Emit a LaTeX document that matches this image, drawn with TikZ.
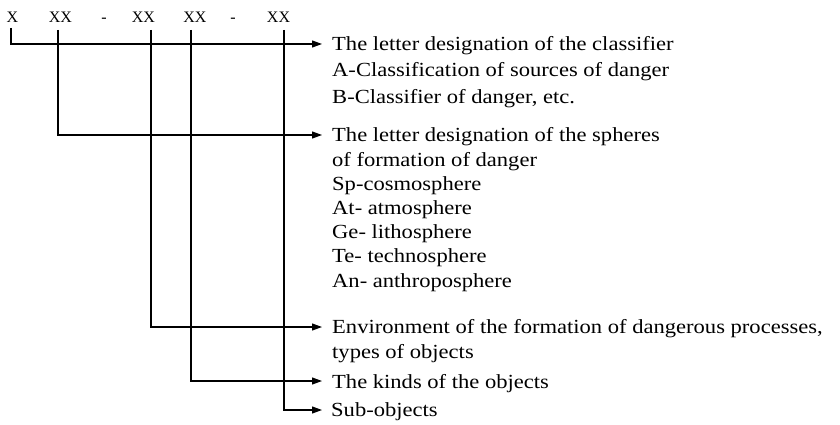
\documentclass[tikz,border=0pt]{standalone}
\usepackage{fontspec}
\setmainfont{Liberation Serif}
\newfontfamily\lblfont{Liberation Serif}[FakeStretch=1.128]
\usetikzlibrary{arrows.meta}
\begin{document}
\begin{tikzpicture}[x=1pt,y=-1pt,
  hdr/.style={inner sep=0pt, font=\fontsize{16}{16}\selectfont, anchor=base},
  lbl/.style={inner sep=0pt, anchor=base west, align=left, font=\lblfont\fontsize{20}{24.2}\selectfont},
  conn/.style={line width=1.1pt, -{Triangle[length=10pt,width=7pt]}}]
\useasboundingbox[fill=white] (0,0) rectangle (840,425);
% header
\node[hdr] (h0) at (12.5,23) {X};
\node[hdr] (h1) at (60.5,23) {XX};
\node[hdr] (d1) at (104,23) {-};
\node[hdr] (h2) at (143.5,23) {XX};
\node[hdr] (h3) at (195,23) {XX};
\node[hdr] (d2) at (233,23) {-};
\node[hdr] (h4) at (278.5,23) {XX};
% start points of the lines
\coordinate (s0) at (11,28);
\coordinate (s1) at (58,30);
\coordinate (s2) at (151,30);
\coordinate (s3) at (191,30);
\coordinate (s4) at (284,30);
% arrow ends
\coordinate (e0) at (322,44);
\coordinate (e1) at (322,135);
\coordinate (e2) at (322,327);
\coordinate (e3) at (322,381);
\coordinate (e4) at (322,410);
% labels (anchored at the baseline of their last line)
\node[lbl, font=\lblfont\fontsize{20}{26}\selectfont] (t0) at (332,103) {The letter designation of the classifier\\A-Classification of sources of danger\\B-Classifier of danger, etc.};
\node[lbl] (t1) at (332,287) {The letter designation of the spheres\\of formation of danger\\Sp-cosmosphere\\At- atmosphere\\Ge- lithosphere\\Te- technosphere\\An- anthroposphere};
\node[lbl] (t2) at (332,358) {Environment of the formation of dangerous processes,\\types of objects};
\node[lbl] (t3) at (332,388) {The kinds of the objects};
\node[lbl] (t4) at (331,416) {Sub-objects};
% connectors
\draw[conn] (s0) |- (e0);
\draw[conn] (s1) |- (e1);
\draw[conn] (s2) |- (e2);
\draw[conn] (s3) |- (e3);
\draw[conn] (s4) |- (e4);
\end{tikzpicture}
\end{document}
